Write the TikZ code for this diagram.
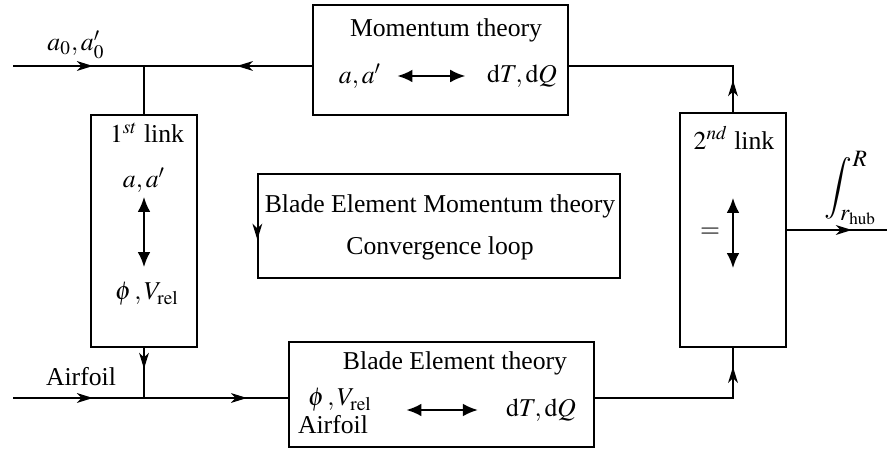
\documentclass[tikz,border=0pt,12pt]{standalone}
\usepackage{mathptmx}
\usepackage{fontspec}
\setmainfont{Liberation Serif}
\usetikzlibrary{arrows.meta,decorations.markings}

\newcommand{\pxu}{0.467pt}
\tikzset{
  box/.style 2 args={draw,line width=0.6pt,inner sep=0pt,
    minimum width={#1*\pxu},minimum height={#2*\pxu}},
  midarrow/.style={line width=0.6pt,postaction={decorate},
    decoration={markings,mark=at position #1 with {\arrow{Stealth[length=7.5pt,width=4.6pt,inset=2.2pt]}}}},
  dbl/.style={line width=0.9pt,{Latex[length=7pt,width=6pt]}-{Latex[length=7pt,width=6pt]}}
}

\begin{document}
\begin{tikzpicture}[x=\pxu,y=-\pxu]
    \useasboundingbox (0,0) rectangle (887,450);
    % boxes
    \node (mom) at (440.5,60) [box={255}{110}]{};
    \node (link1) at (144,231) [box={106}{232}]{};
    \node (link2) at (733,230) [box={106}{234}]{};
    \node (bem) at (439,226) [box={362}{104}]{};
    \node (be) at (441.5,394.5) [box={305}{105}]{};
    % momentum theory
    \node (momT) at (446,30) {Momentum theory};
    \node (momA) at (360,76) {$a,a'$};
    \node (momD) at (522,76) {$\mathrm{d}T,\mathrm{d}Q$};
    \draw[dbl,shorten <=3.5pt,shorten >=6pt] (momA) -- (momD);
    % 1st link
    \node (l1T) at (147,133) {$1^{st}$ link};
    \node (l1A) at (144,180) {$a,a'$};
    \node (l1P) at (147,294) {$\phi\,,V_{\mathrm{rel}}$};
    \coordinate (l1up) at (144,197);
    \coordinate (l1dn) at (144,267);
    \draw[dbl] (l1up) -- (l1dn);
    % 2nd link
    \node (l2T) at (734,138) {$2^{nd}$ link};
    \node (l2E) at (710,233) {$=$};
    \coordinate (l2up) at (733,198);
    \coordinate (l2dn) at (733,268);
    \draw[dbl] (l2up) -- (l2dn);
    % convergence loop
    \node (bemA) at (440,206) {Blade Element Momentum theory};
    \node (bemB) at (440,248) {Convergence loop};
    \draw[midarrow=0.63,draw=none] (bem.north west) -- (bem.south west);
    % blade element theory
    \node (beT) at (455,363) {Blade Element theory};
    \node (beP) at (340,400) {$\phi\,,V_{\mathrm{rel}}$};
    \node (beF) at (333,425) {Airfoil};
    \node (beD) at (541,410) {$\mathrm{d}T,\mathrm{d}Q$};
    \draw[dbl,shorten <=12pt,shorten >=9pt] (beP.east |- beD) -- (beD.west);
    % inputs and outputs
    \node (a0) at (76,45) {$a_0,a'_0$};
    \node (air) at (81,377) {Airfoil};
    \node (integ) at (851,188) {\large$\displaystyle\int_{r_\mathrm{hub}}^{R}$};
    \coordinate (inA) at (13,66);
    \coordinate (inB) at (13,398);
    \coordinate (j1) at (144,66);
    \coordinate (j2) at (144,398);
    \coordinate (momL) at (313,66);
    \coordinate (momR) at (568,66);
    \coordinate (beL) at (289,398);
    \coordinate (beR) at (594,398);
    \coordinate (outR) at (887,230);
    % connectors
    \draw[midarrow=0.61] (inA) -- (j1);
    \draw[midarrow=0.45] (momL) -- (j1);
    \draw[line width=0.6pt] (j1) -- (link1.north);
    \draw[midarrow=15pt] (link2.north) |- (momR);
    \draw[midarrow=0.42] (link1.south) -- (j2);
    \draw[midarrow=0.61] (inB) -- (j2);
    \draw[midarrow=0.71] (j2) -- (beL);
    \draw[midarrow=-9pt] (beR) -| (link2.south);
    \draw[midarrow=0.65] (link2.east) -- (outR);
\end{tikzpicture}
\end{document}
